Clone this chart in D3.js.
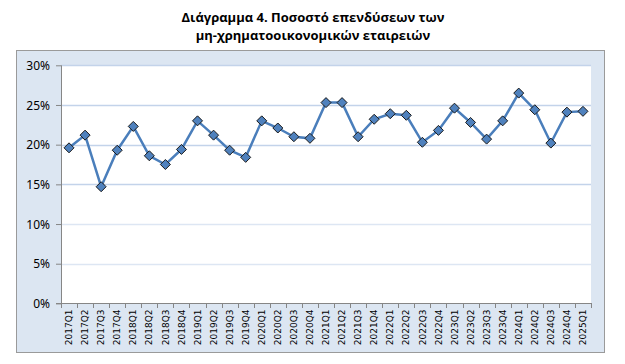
<!DOCTYPE html>
<html>
<head>
<meta charset="utf-8">
<script src="https://cdn.jsdelivr.net/npm/d3@7"></script>
<style>
body { margin: 0; background: #fff; }
.title { font-family: "Open Sans", sans-serif; font-weight: bold; font-size: 13px; fill: #000; }
.yaxis text { font-family: "Noto Sans", sans-serif; font-size: 12px; fill: #000; }
.xaxis text { font-family: "DejaVu Sans", sans-serif; font-size: 9px; fill: #000; }
</style>
</head>
<body>
<svg id="chart" width="625" height="364"></svg>
<script>
// quarters and share of investment (%)
var quarters = ["2017Q1","2017Q2","2017Q3","2017Q4","2018Q1","2018Q2","2018Q3","2018Q4",
  "2019Q1","2019Q2","2019Q3","2019Q4","2020Q1","2020Q2","2020Q3","2020Q4",
  "2021Q1","2021Q2","2021Q3","2021Q4","2022Q1","2022Q2","2022Q3","2022Q4",
  "2023Q1","2023Q2","2023Q3","2023Q4","2024Q1","2024Q2","2024Q3","2024Q4","2025Q1"];
var values = [19.6, 21.2, 14.7, 19.3, 22.3, 18.6, 17.5, 19.4,
  23.0, 21.2, 19.3, 18.4, 23.0, 22.1, 21.0, 20.8,
  25.3, 25.3, 21.0, 23.2, 23.9, 23.7, 20.3, 21.8,
  24.6, 22.8, 20.7, 23.0, 26.5, 24.4, 20.2, 24.1, 24.2];
var yTicks = [0, 5, 10, 15, 20, 25, 30];
var titleLines = ["Διάγραμμα 4. Ποσοστό επενδύσεων των", "μη-χρηματοοικονομικών εταιρειών"];

var svg = d3.select("#chart");

// title
svg.selectAll(".title").data(titleLines).enter().append("text")
  .attr("class", "title")
  .attr("x", 313)
  .attr("y", function(d, i){ return 22 + i * 18; })
  .attr("text-anchor", "middle")
  .text(function(d){ return d; });

// outer chart box
svg.append("rect")
  .attr("x", 16.5).attr("y", 50.5)
  .attr("width", 588).attr("height", 302)
  .attr("fill", "#dce6f2")
  .attr("stroke", "#9a9a9a");

var pLeft = 61, pRight = 591, pTop = 65.3, pBottom = 303.4;

svg.append("rect")
  .attr("x", pLeft).attr("y", pTop)
  .attr("width", pRight - pLeft).attr("height", pBottom - pTop)
  .attr("fill", "#fff");

var x = d3.scaleBand().domain(quarters).range([pLeft, pRight]);
var y = d3.scaleLinear().domain([0, 30]).range([pBottom, pTop]);

// gridlines
svg.append("g").selectAll("line").data(yTicks.slice(1)).enter().append("line")
  .attr("x1", pLeft).attr("x2", pRight)
  .attr("y1", function(d){ return Math.round(y(d)) + 0.5; })
  .attr("y2", function(d){ return Math.round(y(d)) + 0.5; })
  .attr("stroke", function(d){ return d >= 15 ? "#c3d3ea" : "#dde6f3"; })
  .attr("stroke-width", 1.5);

// y axis
var yAxis = svg.append("g").attr("class", "yaxis")
  .attr("transform", "translate(" + pLeft + ",0)")
  .call(d3.axisLeft(y).tickValues(yTicks).tickSize(5).tickPadding(6)
    .tickFormat(function(d){ return d + "%"; }));
yAxis.selectAll("line, path").attr("stroke", "#868686");
yAxis.select(".domain").attr("d", "M0.5," + pTop + "V" + (pBottom + 0.5));
yAxis.selectAll("text").attr("dy", "0.35em");

// x axis
var xAxis = svg.append("g").attr("class", "xaxis")
  .attr("transform", "translate(0," + (Math.round(pBottom) + 0.5) + ")")
  .call(d3.axisBottom(x).tickSize(0).tickPadding(0));
xAxis.select(".domain").attr("stroke", "#868686").attr("d", "M" + (pLeft - 5) + ",0H" + pRight);
xAxis.selectAll("text")
  .attr("transform", "rotate(-90)")
  .attr("text-anchor", "end")
  .attr("x", -6)
  .attr("y", 0)
  .attr("dy", "0.35em");
// ticks between categories
svg.append("g").selectAll("line").data(quarters.concat(["end"])).enter().append("line")
  .attr("x1", function(d, i){ return Math.round(pLeft + i * x.bandwidth()) + 0.5; })
  .attr("x2", function(d, i){ return Math.round(pLeft + i * x.bandwidth()) + 0.5; })
  .attr("y1", Math.round(pBottom)).attr("y2", Math.round(pBottom) + 5)
  .attr("stroke", "#868686");

// line
var line = d3.line()
  .x(function(d, i){ return x(quarters[i]) + x.bandwidth() / 2; })
  .y(function(d){ return y(d); });

svg.append("path").datum(values)
  .attr("d", line)
  .attr("fill", "none")
  .attr("stroke", "#4a7ebb")
  .attr("stroke-width", 2.5);

// diamond markers
svg.append("g").selectAll("path").data(values).enter().append("path")
  .attr("d", "M0,-5L5,0L0,5L-5,0Z")
  .attr("transform", function(d, i){
    return "translate(" + (x(quarters[i]) + x.bandwidth() / 2) + "," + y(d) + ")";
  })
  .attr("fill", "#4f81bd")
  .attr("stroke", "#1a1a1a")
  .attr("stroke-width", 1);
</script>
</body>
</html>
